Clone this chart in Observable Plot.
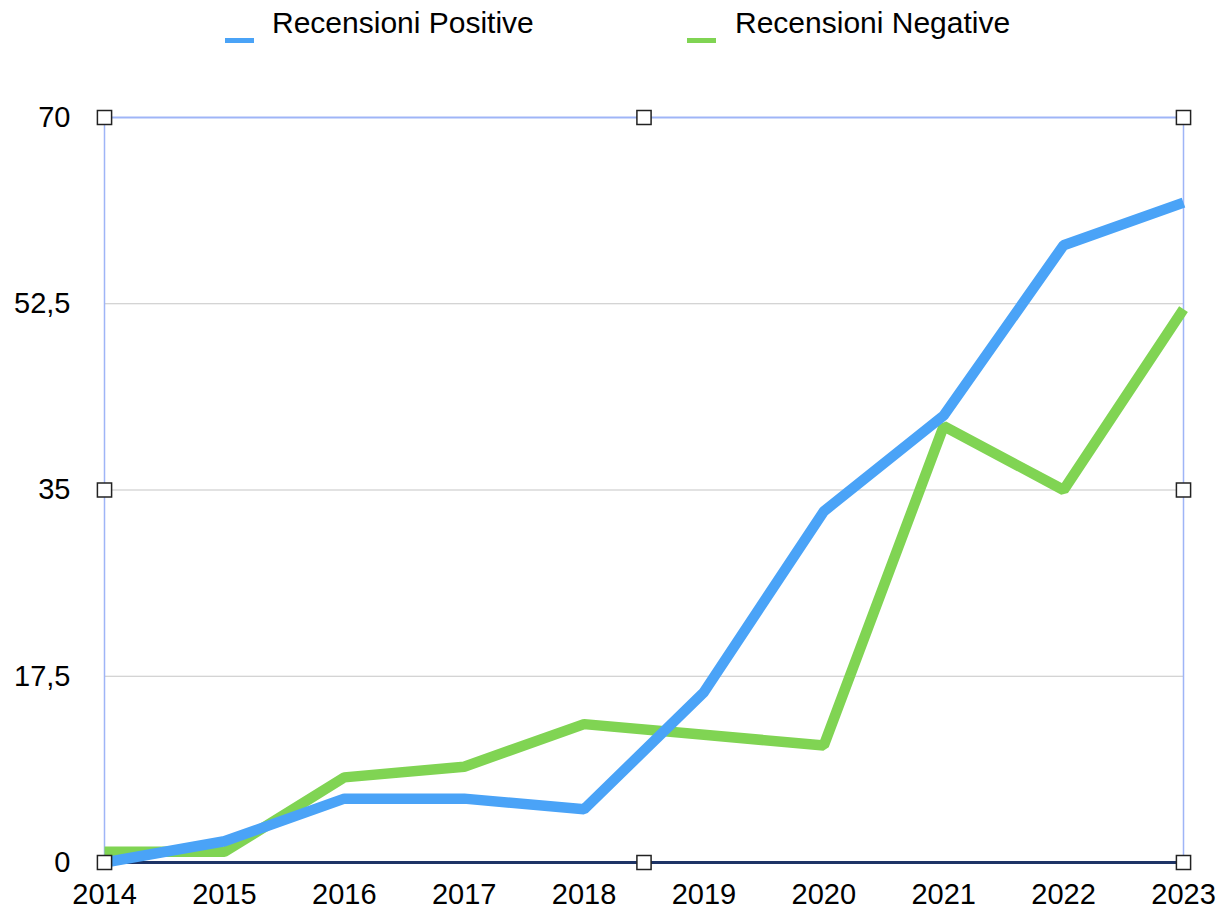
<!DOCTYPE html>
<html>
<head>
<meta charset="utf-8">
<script src="https://cdn.jsdelivr.net/npm/d3@7"></script>
<script src="https://cdn.jsdelivr.net/npm/@observablehq/plot@0.6"></script>
<style>
  html, body { margin: 0; padding: 0; background: #fff; }
  body { width: 1227px; height: 909px; overflow: hidden; font-family: "Liberation Sans", Arial, Helvetica, sans-serif; }
  #legend { position: relative; height: 60px; width: 1227px; }
  .sw { position: absolute; top: 38px; width: 29px; height: 5px; }
  .lt { position: absolute; top: 8px; font-size: 30px; line-height: 30px; color: #000; white-space: nowrap; }
  #chart svg { display: block; }
</style>
</head>
<body>
<div id="legend"></div>
<div id="chart"></div>
<script>
const years = [2014, 2015, 2016, 2017, 2018, 2019, 2020, 2021, 2022, 2023];
const positive = [0, 2, 6, 6, 5, 16, 33, 42, 58, 62];
const negative = [1, 1, 8, 9, 13, 12, 11, 41, 35, 52];
const seriesNames = ["Recensioni Positive", "Recensioni Negative"];
const seriesColors = ["#4aa3f7", "#80d453"];
const yTicks = [0, 17.5, 35, 52.5, 70];
const gridTicks = [17.5, 35, 52.5];
const handleX = [2014, 2018.5, 2023, 2014, 2023, 2014, 2018.5, 2023];
const handleY = [0, 0, 0, 35, 35, 70, 70, 70];

const rows = years.map((yr, i) => ({year: yr, positive: positive[i], negative: negative[i]}));
const handles = handleX.map((x, i) => ({x, y: handleY[i]}));

// Legend
const legend = document.getElementById("legend");
const swLeft = [225, 687];
const txLeft = [272, 735];
seriesNames.forEach((name, i) => {
  const sw = document.createElement("div");
  sw.className = "sw";
  sw.style.left = swLeft[i] + "px";
  sw.style.background = seriesColors[i];
  legend.appendChild(sw);
  const t = document.createElement("div");
  t.className = "lt";
  t.style.left = txLeft[i] + "px";
  t.textContent = name;
  legend.appendChild(t);
});

const fmt = d => String(d).replace(".", ",");

const chart = Plot.plot({
  width: 1227,
  height: 849,
  marginLeft: 104,
  marginRight: 44,
  marginTop: 57,
  marginBottom: 47,
  style: {fontFamily: "'Liberation Sans', Arial, Helvetica, sans-serif", fontSize: "29px", color: "#000", background: "#fff"},
  x: {domain: [2014, 2023], label: null},
  y: {domain: [0, 70], label: null},
  marks: [
    Plot.ruleY(gridTicks, {stroke: "#c6c6c6", strokeWidth: 1.2, strokeOpacity: 1}),
    Plot.ruleY([70], {stroke: "#9fb5f7", strokeWidth: 2, strokeOpacity: 1}),
    Plot.ruleX([2014, 2023], {y1: 0, y2: 70, stroke: "#9fb5f7", strokeWidth: 1.5, strokeOpacity: 1}),
    Plot.ruleY([0], {stroke: "#1e3466", strokeWidth: 3, strokeOpacity: 1}),
    Plot.lineY(rows, {x: "year", y: "negative", stroke: seriesColors[1], strokeWidth: 10.5, strokeLinecap: "butt", strokeLinejoin: "miter"}),
    Plot.lineY(rows, {x: "year", y: "positive", stroke: seriesColors[0], strokeWidth: 10.5, strokeLinecap: "butt", strokeLinejoin: "miter"}),
    Plot.dot(handles, {x: "x", y: "y", symbol: "square", r: 8, fill: "#fff", stroke: "#222", strokeWidth: 1.5}),
    Plot.axisY({ticks: yTicks, tickFormat: fmt, tickSize: 0, tickPadding: 34, label: null, fontSize: 29}),
    Plot.axisX({ticks: years, tickFormat: d => String(d), tickSize: 0, tickPadding: 21, label: null, fontSize: 29})
  ]
});
document.getElementById("chart").appendChild(chart);
</script>
</body>
</html>
